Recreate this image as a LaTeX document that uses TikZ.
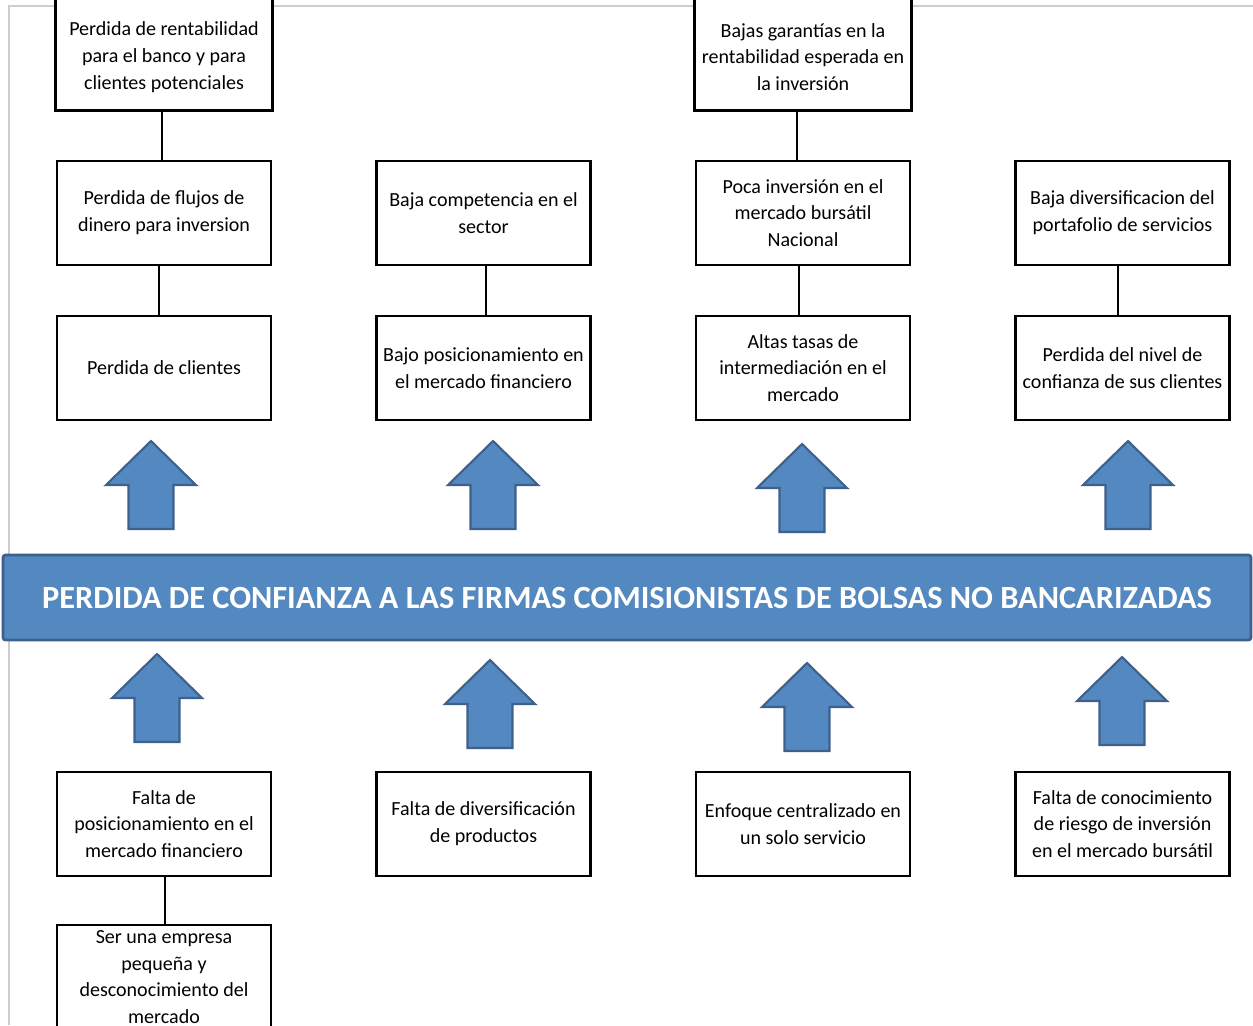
\documentclass[tikz,border=0pt]{standalone}
\usepackage{fontspec}
\setmainfont{Carlito}
\definecolor{bannerblue}{RGB}{84,136,192}
\definecolor{bannerline}{RGB}{61,96,140}
\definecolor{framegray}{RGB}{205,205,205}
\newcommand\pxu{0.02cm}
% block arrow pointing up, tip at (#1,#2)
\newcommand\blockarrow[2]{\draw[upshape] (#1,#2) -- ++(45,44) -- ++(-22.5,0) -- ++(0,44) -- ++(-45,0) -- ++(0,-44) -- ++(-22.5,0) -- cycle;}
\begin{document}
\begin{tikzpicture}[x=0.02cm,y=-0.02cm,
  causebox/.style={draw=black,line width=1.6pt,fill=white,minimum width=214*\pxu,minimum height=104*\pxu,
    align=center,inner sep=0pt,font=\fontsize{11.4}{15.3}\selectfont},
  boxedge/.style={line width=1.6pt},
  link/.style={line width=0.8pt},
  upshape/.style={fill=bannerblue,draw=bannerline,line width=1.2pt,line join=miter},
  banner/.style={fill=bannerblue,draw=bannerline,line width=1.6pt,rounded corners=1.5pt,
    minimum width=1248*\pxu,minimum height=85*\pxu,inner sep=0pt,text=white,
    font=\bfseries\fontsize{18.4}{22}\selectfont}]
\clip (0,0) rectangle (1253,1025);
\draw[framegray,line width=0.8pt] (1253,6) -- (9,6) -- (9,1025);

% effects, top rows
\node[causebox,draw=none] (effa1) at (164,57) {Perdida de rentabilidad\\para el banco y para\\clientes potenciales};
\draw[boxedge] ([yshift=12*\pxu]effa1.north west) -- (effa1.south west) -- (effa1.south east) -- ([yshift=12*\pxu]effa1.north east);
\node[causebox,draw=none] (effc1) at (803,57) {Bajas garantías en la\\rentabilidad esperada en\\la inversión};
\draw[boxedge] ([yshift=12*\pxu]effc1.north west) -- (effc1.south west) -- (effc1.south east) -- ([yshift=12*\pxu]effc1.north east);

\node[causebox] (effa2) at (164,213) {Perdida de flujos de\\dinero para inversion};
\node[causebox] (effb2) at (483.5,213) {Baja competencia en el\\sector};
\node[causebox] (effc2) at (803,213) {Poca inversión en el\\mercado bursátil\\Nacional};
\node[causebox] (effd2) at (1122.5,213) {Baja diversificacion del\\portafolio de servicios};

\node[causebox] (effa3) at (164,368) {Perdida de clientes};
\node[causebox] (effb3) at (483.5,368) {Bajo posicionamiento en\\el mercado financiero};
\node[causebox] (effc3) at (803,368) {Altas tasas de\\intermediación en el\\mercado};
\node[causebox] (effd3) at (1122.5,368) {Perdida del nivel de\\confianza de sus clientes};

\draw[link] ([xshift=-2*\pxu]effa1.south) -- ([xshift=-2*\pxu]effa2.north);
\draw[link] ([xshift=-6*\pxu]effc1.south) -- ([xshift=-6*\pxu]effc2.north);
\draw[link] ([xshift=-5*\pxu]effa2.south) -- ([xshift=-5*\pxu]effa3.north);
\draw[link] ([xshift=2.5*\pxu]effb2.south) -- ([xshift=2.5*\pxu]effb3.north);
\draw[link] ([xshift=-4*\pxu]effc2.south) -- ([xshift=-4*\pxu]effc3.north);
\draw[link] ([xshift=-4.5*\pxu]effd2.south) -- ([xshift=-4.5*\pxu]effd3.north);

% arrows above the problem
\blockarrow{151}{441}
\blockarrow{493}{441}
\blockarrow{802}{444}
\blockarrow{1128}{441}

% central problem
\node[banner] (problem) at (627,597.5) {PERDIDA DE CONFIANZA A LAS FIRMAS COMISIONISTAS DE BOLSAS NO BANCARIZADAS};

% arrows below the problem
\blockarrow{157}{654}
\blockarrow{490}{660}
\blockarrow{807}{663}
\blockarrow{1122}{657}

% causes
\node[causebox] (causea) at (164,824) {Falta de\\posicionamiento en el\\mercado financiero};
\node[causebox] (causeb) at (483.5,824) {Falta de diversificación\\de productos};
\node[causebox] (causec) at (803,824) {Enfoque centralizado en\\un solo servicio};
\node[causebox] (caused) at (1122.5,824) {Falta de conocimiento\\de riesgo de inversión\\en el mercado bursátil};
\node[causebox] (roota) at (164,977) {Ser una empresa\\pequeña y\\desconocimiento del\\mercado};
\draw[link] ([xshift=1*\pxu]causea.south) -- ([xshift=1*\pxu]roota.north);
\end{tikzpicture}
\end{document}
